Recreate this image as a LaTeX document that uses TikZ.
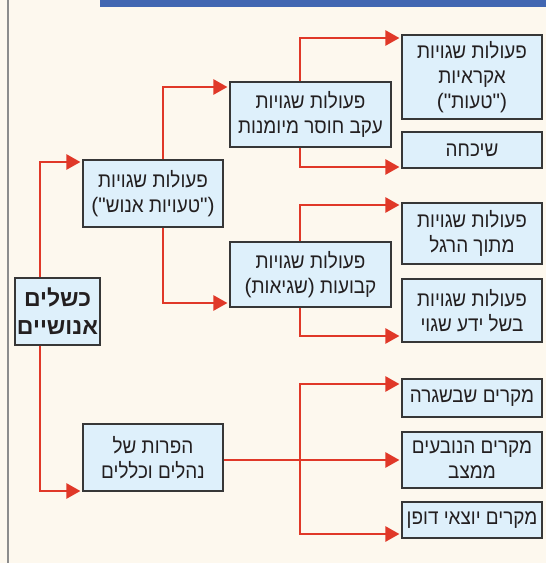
\documentclass[tikz,border=0pt]{standalone}
\usepackage{fontspec}
\setmainfont[Script=Hebrew,FakeStretch=0.9]{Liberation Sans}
\newfontfamily\rootfont[Script=Hebrew]{Liberation Sans}
\newfontfamily\latinp{Liberation Sans}
\TeXXeTstate=1
\usetikzlibrary{arrows.meta}
\newcommand{\RL}[1]{\beginR #1\endR}
\newcommand{\lp}{{\latinp(}}
\newcommand{\rp}{{\latinp)}}
\newcommand{\qt}{{\latinp"}}
\definecolor{bgc}{RGB}{253,248,238}
\definecolor{barc}{RGB}{66,103,178}
\definecolor{boxfill}{RGB}{222,240,251}
\definecolor{boxline}{RGB}{55,55,55}
\definecolor{redc}{RGB}{224,56,40}
\definecolor{txtc}{RGB}{35,31,32}
\definecolor{sidec}{RGB}{140,140,140}
\tikzset{
  box/.style={draw=boxline, line width=1.1pt, fill=boxfill, align=center,
    inner sep=0pt, text=txtc, font=\fontsize{21}{25}\selectfont},
  rootbox/.style={box, font=\rootfont\fontsize{23}{28}\selectfont\bfseries},
  conn/.style={draw=redc, line width=2.4pt,
    -{Triangle[length=14pt,width=15pt]}, shorten >=2pt}
}
\begin{document}
\begin{tikzpicture}[x=1pt,y=-1pt]
\useasboundingbox (0,0) rectangle (546,563);
\fill[bgc] (0,0) rectangle (546,563);
\fill[barc] (100,0) rectangle (546,7);
\fill[sidec] (7,0) rectangle (9,563);

\coordinate (t1) at (40,162);
\coordinate (t2) at (40,491);
\coordinate (u1) at (163,87);
\coordinate (u2) at (163,303);
\coordinate (v1) at (300,38);
\coordinate (v2) at (300,167);
\coordinate (v3) at (300,205);
\coordinate (v4) at (300,336);
\coordinate (w1) at (300,384);
\coordinate (w2) at (300,460);
\coordinate (w3) at (300,534);

\node[rootbox, minimum width=85pt, minimum height=67pt] (root) at (57.5,311.5) {\RL{כשלים}\\\RL{אנושיים}};
\node[box, minimum width=140pt, minimum height=67pt] (b1) at (153,193.5) {\RL{פעולות שגויות}\\\lp\qt\RL{טעויות אנוש}\qt\rp};
\node[box, minimum width=140pt, minimum height=67pt] (b4) at (153,457.5) {\RL{הפרות של}\\\RL{נהלים וכללים}};
\node[box, minimum width=161pt, minimum height=65pt] (b2) at (310.5,114.5) {\RL{פעולות שגויות}\\\RL{עקב חוסר מיומנות}};
\node[box, minimum width=161pt, minimum height=65pt] (b3) at (310.5,274.5) {\RL{פעולות שגויות}\\\lp\RL{שגיאות}\rp\ \RL{קבועות}};
\node[box, minimum width=140pt, minimum height=84pt] (A) at (472,77) {\RL{פעולות שגויות}\\\RL{אקראיות}\\\lp\qt\RL{טעות}\qt\rp};
\node[box, minimum width=140pt, minimum height=36pt] (B) at (472,150) {\RL{שיכחה}};
\node[box, minimum width=140pt, minimum height=61pt] (C) at (472,233.5) {\RL{פעולות שגויות}\\\RL{מתוך הרגל}};
\node[box, minimum width=140pt, minimum height=63pt] (D) at (472,310.5) {\RL{פעולות שגויות}\\\RL{בשל ידע שגוי}};
\node[box, minimum width=140pt, minimum height=38pt] (E) at (472,398) {\RL{מקרים שבשגרה}};
\node[box, minimum width=140pt, minimum height=56pt] (F) at (472,460) {\RL{מקרים הנובעים}\\\RL{ממצב}};
\node[box, minimum width=140pt, minimum height=36pt] (G) at (472,520) {\RL{מקרים יוצאי דופן}};

\draw[conn] (root.north -| t1) |- (b1.west |- t1);
\draw[conn] (root.south -| t2) |- (b4.west |- t2);
\draw[conn] (b1.north -| u1) |- (b2.west |- u1);
\draw[conn] (b1.south -| u2) |- (b3.west |- u2);
\draw[conn] (b2.north -| v1) |- (A.west |- v1);
\draw[conn] (b2.south -| v2) |- (B.west |- v2);
\draw[conn] (b3.north -| v3) |- (C.west |- v3);
\draw[conn] (b3.south -| v4) |- (D.west |- v4);
\draw[conn] (b4.east |- w2) -- (F.west |- w2);
\draw[conn] (w2) |- (E.west |- w1);
\draw[conn] (w2) |- (G.west |- w3);
\end{tikzpicture}
\end{document}
